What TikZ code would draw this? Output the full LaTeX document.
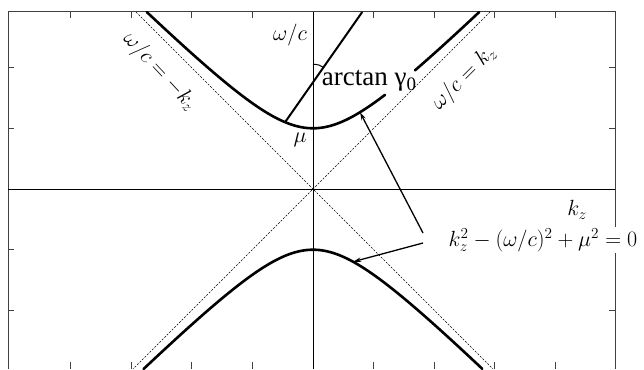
\documentclass[tikz,border=0pt]{standalone}
\usepackage{fontspec}
\newfontfamily\timesf{Liberation Serif}
\usetikzlibrary{arrows.meta}
\newcommand\bigtxt[1]{\scalebox{1.06}{#1}}
\begin{document}
\begin{tikzpicture}[x=1pt,y=-1pt,
  curve/.style={line width=2.6pt, line cap=round},
  axisline/.style={line width=0.9pt},
  asym/.style={line width=0.6pt, dash pattern=on 2pt off 1.5pt},
  framel/.style={line width=1.0pt, black!75},
  tickl/.style={line width=0.8pt, black!75},
  lbl/.style={font=\fontsize{20.74}{25}\selectfont, inner sep=1pt},
  ptr/.style={line width=1.3pt, -{Stealth[length=8pt,width=4.5pt]}}]
\useasboundingbox (0,0) rectangle (644,369);
% frame
\draw[framel] (8,369) -- (8,12) -- (615,12) -- (615,369);
% ticks
\foreach \n in {-4,-3,-2,-1,1,2,3,4} {
  \draw[tickl] ({313+60.6*\n},12) -- ++(0,6);
  \draw[tickl] ({313+60.6*\n},369) -- ++(0,-7);
}
\foreach \m in {-2,-1,1,2} {
  \draw[tickl] (8,{189+60.7*\m}) -- ++(6,0);
  \draw[tickl] (615,{189+60.7*\m}) -- ++(-6,0);
}
% axes
\coordinate (xl) at (8,189);
\coordinate (xr) at (615,189);
\coordinate (yt) at (313,12);
\coordinate (yb) at (313,369);
\draw[axisline] (xl) -- (xr);
\draw[axisline] (yt) -- (yb);
% curves
\begin{scope}[shift={(313,189)}, x=60.7pt, y=60.7pt]
  \draw[asym] (-2.916,2.916) -- (2.965,-2.965);
  \draw[asym] (2.916,2.916) -- (-2.965,-2.965);
  \draw[curve, domain=-2.739:1.186, samples=60, smooth, variable=\t] plot (\t,{sqrt(1+\t*\t)});
  \draw[curve, domain=1.68:2.739, samples=20, smooth, variable=\t] plot (\t,{sqrt(1+\t*\t)});
  \draw[curve, domain=-2.79:2.79, samples=80, smooth, variable=\t] plot (\t,{-sqrt(1+\t*\t)});
  \coordinate (P) at (-0.46,{sqrt(1+0.46*0.46)});
  \coordinate (Q) at (0,1.758);
  \draw[line width=2pt] (P) -- ++(55:2.216);
  \draw[line width=1pt] (Q) ++(0,0.3) arc[start angle=90,end angle=55,radius=18.2pt];
  \coordinate (u1) at (0.774,{sqrt(1+0.774*0.774)});
  \coordinate (l1) at (0.66,{-sqrt(1+0.66*0.66)});
\end{scope}
% labels
\node[lbl] (wc) at (290,35) {\bigtxt{$\omega/c$}};
\node[lbl] (mu) at (300,140) {\bigtxt{$\mu$}};
\node[lbl, font=\fontsize{27}{30}\selectfont] (atan) at (369,81) {\timesf arctan γ\raisebox{-0.35ex}{\fontsize{19}{20}\selectfont 0}};
\node[lbl, rotate=-47] (am) at (160,72) {\bigtxt{$\omega/c=-k_z$}};
\node[lbl, rotate=45] (ap) at (464,78) {\bigtxt{$\omega/c=k_z$}};
\node[lbl] (kz) at (577,210) {\bigtxt{$k_z$}};
\node[lbl, fill=white] (eq) at (543,240) {\bigtxt{$k_z^2-(\omega/c)^2+\mu^2=0$}};
\coordinate (s1) at (423,233);
\coordinate (s2) at (423,243);
\draw[ptr] (s1) -- (u1);
\draw[ptr] (s2) -- (l1);
\end{tikzpicture}
\end{document}
